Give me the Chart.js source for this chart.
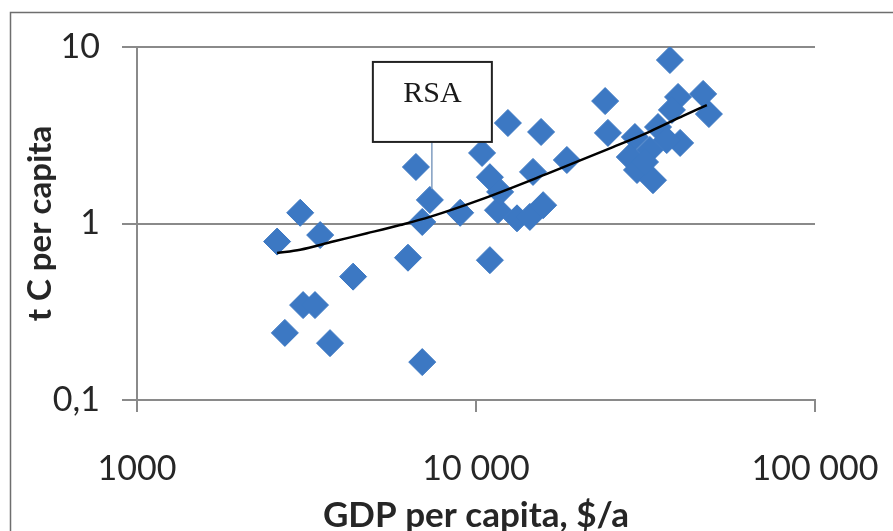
<!DOCTYPE html>
<html>
<head>
<meta charset="utf-8">
<style>
  html, body { margin: 0; padding: 0; background: #ffffff; }
  #wrap { width: 893px; height: 531px; position: relative; }
</style>
<script src="https://cdn.jsdelivr.net/npm/chart.js@4/dist/chart.umd.min.js"></script>
</head>
<body>
<div id="wrap"><canvas id="c" width="893" height="531"></canvas></div>
<script>
// GDP per capita ($/a) and carbon emissions (t C per capita) by country
const gdpPerCapita = [
  2590, 2730, 3030, 3090, 3350, 3470, 3710, 4340, 6300, 6650,
  6940, 7310, 6940, 8980, 10420, 10990, 10990, 11610, 12420, 13210,
  14420, 15780, 14730, 15560, 18540, 24040, 24500, 37330, 39450, 46770,
  48650, 40000, 29430, 34430, 28430, 32580, 36540, 29850, 33270, 37840,
  31520, 11780
];
const carbonPerCapita = [
  0.79, 0.24, 1.15, 0.345, 0.345, 0.86, 0.21, 0.50, 0.64, 2.09,
  1.02, 1.36, 0.164, 1.15, 2.51, 1.83, 0.62, 1.19, 3.71, 1.07,
  1.09, 1.27, 1.96, 3.30, 2.29, 4.94, 3.26, 8.44, 5.21, 5.42,
  4.17, 2.86, 3.09, 3.52, 2.38, 2.61, 2.97, 2.01, 1.76, 4.40,
  2.23, 1.51
];
// South Africa (labelled point)
const rsaIndex = 11;
const rsaLabel = 'RSA';

// Trend line, sampled along the fitted curve
const trendGdp    = [2590, 3030, 3790, 4770, 5970, 7310, 10270, 16180, 25350, 32580, 40820, 47970];
const trendCarbon = [0.68, 0.71, 0.79, 0.88, 0.98, 1.09, 1.36, 1.91, 2.71, 3.32, 4.07, 4.69];

// Axis ticks
const xTickValues = [1000, 10000, 100000];
const xTickLabels = ['1000', '10 000', '100 000'];
const yTickValues = [0.1, 1, 10];
const yTickLabels = ['0,1', '1', '10'];

const xTitle = 'GDP per capita, $/a';
const yTitle = 't C per capita';

const pointColor = '#3c78c3';
const gridColor = '#8a8a8a';
const textColor = '#262626';
const fontFamily = 'Lato, "Open Sans", "Liberation Sans", sans-serif';

const scatterData = gdpPerCapita.map((x, i) => ({ x: x, y: carbonPerCapita[i] }));
const trendData = trendGdp.map((x, i) => ({ x: x, y: trendCarbon[i] }));

// Outer frame (left and top edges)
const framePlugin = {
  id: 'frame',
  beforeDraw(chart) {
    const ctx = chart.ctx;
    ctx.save();
    ctx.fillStyle = '#ffffff';
    ctx.fillRect(0, 0, chart.width, chart.height);
    ctx.strokeStyle = '#6e6e6e';
    ctx.lineWidth = 1.5;
    ctx.beginPath();
    ctx.moveTo(10.5, chart.height);
    ctx.lineTo(10.5, 12.5);
    ctx.lineTo(chart.width, 12.5);
    ctx.stroke();
    ctx.restore();
  }
};

// Callout box naming the South Africa point
const calloutPlugin = {
  id: 'callout',
  afterDraw(chart) {
    const xs = chart.scales.x, ys = chart.scales.y;
    const px = xs.getPixelForValue(gdpPerCapita[rsaIndex]);
    const py = ys.getPixelForValue(carbonPerCapita[rsaIndex]);
    const ctx = chart.ctx;
    const boxL = px - 57, boxR = px + 62, boxT = py - 138, boxB = py - 58;
    const cx = px + 2;
    ctx.save();
    ctx.strokeStyle = '#7f9dc0';
    ctx.lineWidth = 1.5;
    ctx.beginPath();
    ctx.moveTo(cx, boxB);
    ctx.lineTo(cx, py - 11);
    ctx.stroke();
    ctx.fillStyle = '#ffffff';
    ctx.fillRect(boxL, boxT, boxR - boxL, boxB - boxT);
    ctx.strokeStyle = '#222222';
    ctx.lineWidth = 2;
    ctx.strokeRect(boxL, boxT, boxR - boxL, boxB - boxT);
    ctx.fillStyle = '#1a1a1a';
    ctx.font = '30px "Liberation Serif", "Times New Roman", serif';
    ctx.textAlign = 'center';
    ctx.textBaseline = 'middle';
    ctx.fillText(rsaLabel, (boxL + boxR) / 2, boxT + 32);
    ctx.restore();
  }
};

new Chart(document.getElementById('c'), {
  type: 'scatter',
  data: {
    datasets: [
      {
        type: 'line',
        data: trendData,
        borderColor: '#000000',
        borderWidth: 2.5,
        pointRadius: 0,
        fill: false,
        cubicInterpolationMode: 'monotone',
        order: 0
      },
      {
        data: scatterData,
        pointStyle: 'rectRot',
        pointRadius: 13.5,
        pointHoverRadius: 13.5,
        backgroundColor: pointColor,
        borderColor: pointColor,
        borderWidth: 1,
        order: 1
      }
    ]
  },
  options: {
    responsive: false,
    animation: false,
    events: [],
    layout: { padding: { left: 0, top: 47, right: 78, bottom: 0 } },
    plugins: {
      legend: { display: false },
      tooltip: { enabled: false }
    },
    scales: {
      x: {
        type: 'logarithmic',
        min: 1000,
        max: 100000,
        afterBuildTicks: s => { s.ticks = xTickValues.map(v => ({ value: v })); },
        afterFit: s => { s.height = 131; s.paddingLeft = 0; s.paddingRight = 0; },
        grid: {
          display: true,
          drawOnChartArea: false,
          drawTicks: true,
          tickLength: 12,
          color: gridColor,
          lineWidth: 2
        },
        border: { display: true, color: gridColor, width: 2 },
        ticks: {
          autoSkip: false,
          maxRotation: 0,
          padding: 37,
          color: textColor,
          font: { family: fontFamily, size: 34 },
          callback: (v, i) => xTickLabels[i]
        },
        title: {
          display: true,
          text: xTitle,
          color: textColor,
          font: { family: fontFamily, size: 35, weight: 'bold', lineHeight: 1 },
          padding: { top: 0, bottom: -2 }
        }
      },
      y: {
        type: 'logarithmic',
        min: 0.1,
        max: 10,
        afterBuildTicks: s => { s.ticks = yTickValues.map(v => ({ value: v })); },
        afterFit: s => { s.width = 137; s.paddingTop = 0; s.paddingBottom = 0; },
        grid: {
          display: true,
          drawOnChartArea: true,
          drawTicks: true,
          tickLength: 15,
          color: gridColor,
          lineWidth: 2
        },
        border: { display: true, color: gridColor, width: 2 },
        ticks: {
          autoSkip: false,
          padding: 22,
          color: textColor,
          font: { family: fontFamily, size: 34 },
          callback: (v, i) => yTickLabels[i]
        },
        title: {
          display: true,
          text: yTitle,
          color: textColor,
          font: { family: fontFamily, size: 33, weight: 'bold', lineHeight: 1.2 },
          padding: { top: 21, bottom: 0 }
        }
      }
    }
  },
  plugins: [framePlugin, calloutPlugin]
});
</script>
</body>
</html>
